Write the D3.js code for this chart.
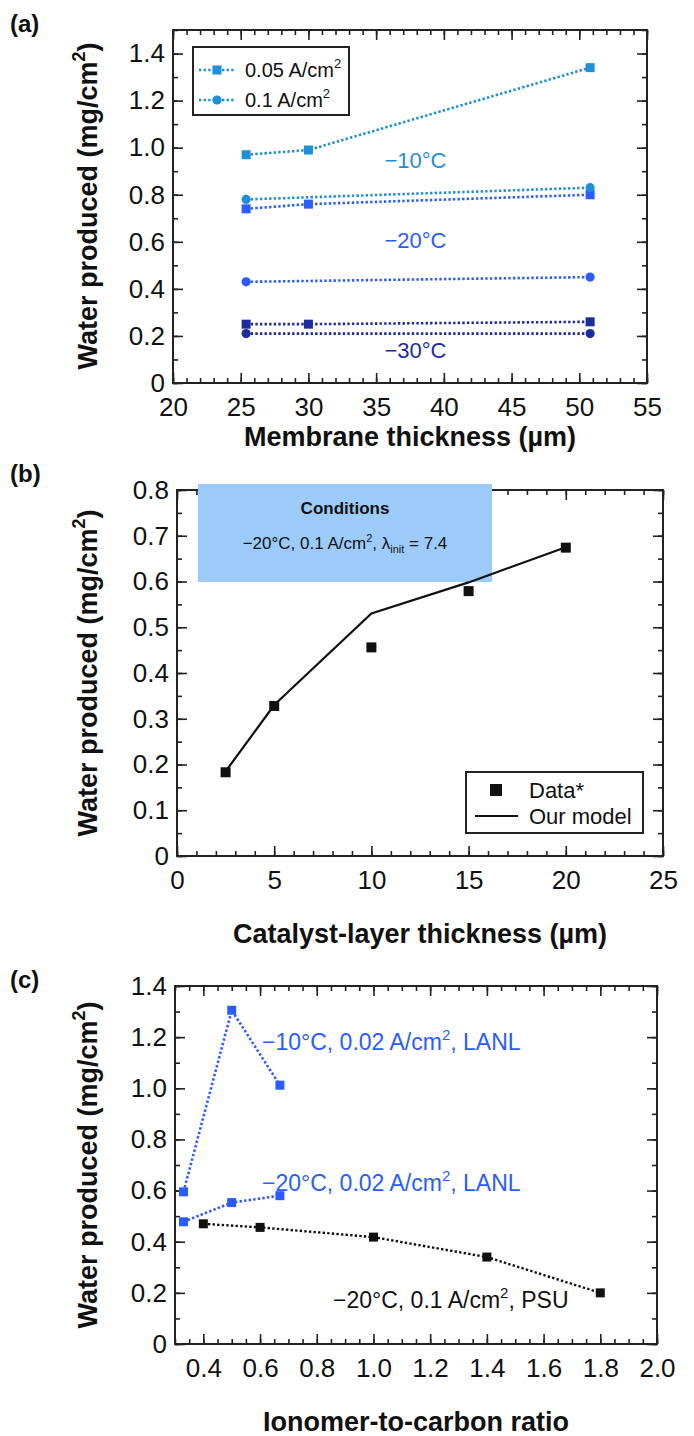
<!DOCTYPE html>
<html>
<head>
<meta charset="utf-8">
<title>Water produced</title>
<script src="https://cdn.jsdelivr.net/npm/d3@7"></script>
<style>
  body { margin: 0; background: #fff; }
  text { font-family: "Liberation Sans", Arial, sans-serif; fill: #111; }
</style>
</head>
<body>
<div id="chart"></div>
<script>
// (a) membrane thickness
var xA = [25.4, 30, 50.8];
var aSq10 = [0.97, 0.99, 1.34];
var aSq20 = [0.74, 0.76, 0.80];
var aSq30 = [0.25, 0.25, 0.26];
var xAc = [25.4, 50.8];
var aCi10 = [0.78, 0.83];
var aCi20 = [0.43, 0.45];
var aCi30 = [0.21, 0.21];
var xTicksA = [20, 25, 30, 35, 40, 45, 50, 55];
var yTicksA = [0, 0.2, 0.4, 0.6, 0.8, 1.0, 1.2, 1.4];

// (b) catalyst-layer thickness
var xB = [2.5, 5, 10, 15, 20];
var bData = [0.183, 0.328, 0.456, 0.579, 0.674];
var bModel = [0.185, 0.33, 0.53, 0.598, 0.675];
var xTicksB = [0, 5, 10, 15, 20, 25];
var yTicksB = [0, 0.1, 0.2, 0.3, 0.4, 0.5, 0.6, 0.7, 0.8];

// (c) ionomer-to-carbon ratio
var xLANL = [0.33, 0.5, 0.67];
var cL10 = [0.595, 1.305, 1.012];
var cL20 = [0.478, 0.553, 0.58];
var xPSU = [0.4, 0.6, 1.0, 1.4, 1.8];
var cPSU = [0.47, 0.456, 0.418, 0.34, 0.20];
var xTicksC = [0.4, 0.6, 0.8, 1.0, 1.2, 1.4, 1.6, 1.8, 2.0];
var yTicksC = [0, 0.2, 0.4, 0.6, 0.8, 1.0, 1.2, 1.4];

var col10 = "#1f8fd8", col20 = "#2a5cff", col30 = "#1d2c9c";

var svg = d3.select("#chart").append("svg")
    .attr("width", 694)
    .attr("height", 1436);

var yFmt = function(d) { return d === 0 ? "0" : d.toFixed(1); };

function frame(x, y, xMaj, xMin, yMaj, yMin, xFmt) {
    var g = svg.append("g");
    var L = x.range()[0], R = x.range()[1], B = y.range()[0], T = y.range()[1];
    var none = function() { return ""; };
    [[d3.axisBottom(x), 0, B, xMaj, 10, xFmt, 15],
     [d3.axisBottom(x), 0, B, xMin, 5, none, 8],
     [d3.axisTop(x), 0, T, xMaj, 10, none, 8],
     [d3.axisTop(x), 0, T, xMin, 5, none, 8],
     [d3.axisLeft(y), L, 0, yMaj, 10, yFmt, 8],
     [d3.axisLeft(y), L, 0, yMin, 5, none, 8],
     [d3.axisRight(y), R, 0, yMaj, 10, none, 8],
     [d3.axisRight(y), R, 0, yMin, 5, none, 8]].forEach(function(a) {
        var s = g.append("g")
            .attr("transform", "translate(" + a[1] + "," + a[2] + ")")
            .call(a[0].tickValues(a[3]).tickSizeInner(-a[4]).tickSizeOuter(0)
                .tickPadding(a[6]).tickFormat(a[5]));
        s.select(".domain").remove();
        s.selectAll("line").attr("stroke", "#222").attr("stroke-width", 1.6);
        s.selectAll("text").attr("font-size", 26).attr("fill", "#111")
            .attr("font-family", '"Liberation Sans", Arial, sans-serif');
    });
    g.append("rect")
        .attr("x", L).attr("y", T).attr("width", R - L).attr("height", B - T)
        .attr("fill", "none").attr("stroke", "#222").attr("stroke-width", 2);
    return g;
}

function dotted(xs, ys, x, y, color, w) {
    svg.append("path")
        .datum(d3.zip(xs, ys))
        .attr("d", d3.line().x(function(d) { return x(d[0]); }).y(function(d) { return y(d[1]); }))
        .attr("fill", "none")
        .attr("stroke", color)
        .attr("stroke-width", w || 2.6)
        .attr("stroke-dasharray", "2.4,2.2");
}

function squares(xs, ys, x, y, color, s) {
    svg.append("g").selectAll("rect")
        .data(d3.zip(xs, ys))
        .join("rect")
        .attr("x", function(d) { return x(d[0]) - s / 2; })
        .attr("y", function(d) { return y(d[1]) - s / 2; })
        .attr("width", s).attr("height", s)
        .attr("fill", color);
}

function circles(xs, ys, x, y, color, r) {
    svg.append("g").selectAll("circle")
        .data(d3.zip(xs, ys))
        .join("circle")
        .attr("cx", function(d) { return x(d[0]); })
        .attr("cy", function(d) { return y(d[1]); })
        .attr("r", r)
        .attr("fill", color);
}

// text with superscript parts: [["text", false], ["2", true]]
function rich(g, parts, size, supSize) {
    var t = g;
    parts.forEach(function(p) {
        if (p[1]) {
            t.append("tspan").attr("font-size", supSize).attr("dy", -size * 0.45).text(p[0]);
        } else {
            var sp = t.append("tspan").text(p[0]);
            if (t.selectAll("tspan").size() > 1) sp.attr("dy", size * 0.45);
        }
    });
    return t;
}

function yTitle(cx, cy) {
    var t = svg.append("text")
        .attr("transform", "translate(" + cx + "," + cy + ") rotate(-90)")
        .attr("text-anchor", "middle")
        .attr("font-size", 27)
        .attr("font-weight", "bold");
    rich(t, [["Water produced (mg/cm", false], ["2", true], [")", false]], 27, 18);
}

function panelLabel(txt, px, py) {
    svg.append("text").attr("x", px).attr("y", py)
        .attr("font-size", 24).attr("font-weight", "bold").text(txt);
}

// ---------- (a) ----------
var xa = d3.scaleLinear().domain([20, 55]).range([173, 647]);
var ya = d3.scaleLinear().domain([0, 1.5]).range([383, 30]);
frame(xa, ya, xTicksA, d3.range(20, 55.01, 1), yTicksA, d3.range(0, 1.51, 0.1), d3.format("d"));

dotted(xA, aSq10, xa, ya, col10);
dotted(xAc, aCi10, xa, ya, col10);
dotted(xA, aSq20, xa, ya, col20);
dotted(xAc, aCi20, xa, ya, col20);
dotted(xA, aSq30, xa, ya, col30);
dotted(xAc, aCi30, xa, ya, col30);
squares(xA, aSq10, xa, ya, col10, 9);
squares(xA, aSq20, xa, ya, col20, 9);
squares(xA, aSq30, xa, ya, col30, 9);
circles(xAc, aCi10, xa, ya, col10, 4.6);
circles(xAc, aCi20, xa, ya, col20, 4.6);
circles(xAc, aCi30, xa, ya, col30, 4.6);

[["\u221210\u00b0C", 0.947, col10], ["\u221220\u00b0C", 0.608, col20], ["\u221230\u00b0C", 0.139, col30]]
    .forEach(function(l) {
        svg.append("text").attr("x", xa(37.9)).attr("y", ya(l[1]) + 8)
            .attr("text-anchor", "middle").attr("font-size", 22)
            .style("fill", l[2]).text(l[0]);
    });

// legend (a)
var lgA = svg.append("g");
lgA.append("rect").attr("x", 193).attr("y", 47).attr("width", 156).attr("height", 68)
    .attr("fill", "#fff").attr("stroke", "#222").attr("stroke-width", 2);
[[70, "0.05 A/cm", "sq"], [100, "0.1 A/cm", "ci"]].forEach(function(r) {
    lgA.append("line").attr("x1", 199).attr("x2", 235).attr("y1", r[0]).attr("y2", r[0])
        .attr("stroke", col10).attr("stroke-width", 2.6).attr("stroke-dasharray", "2.4,2.2");
    if (r[2] === "sq") {
        lgA.append("rect").attr("x", 212.5).attr("y", r[0] - 4.5).attr("width", 9).attr("height", 9).attr("fill", col10);
    } else {
        lgA.append("circle").attr("cx", 217).attr("cy", r[0]).attr("r", 4.6).attr("fill", col10);
    }
    var t = lgA.append("text").attr("x", 245).attr("y", r[0] + 7).attr("font-size", 20);
    rich(t, [[r[1], false], ["2", true]], 20, 13);
});

svg.append("text").attr("x", 410).attr("y", 446).attr("text-anchor", "middle")
    .attr("font-size", 27).attr("font-weight", "bold").text("Membrane thickness (\u00b5m)");
yTitle(97, 206);
panelLabel("(a)", 10, 32);

// ---------- (b) ----------
var xb = d3.scaleLinear().domain([0, 25]).range([177, 663]);
var yb = d3.scaleLinear().domain([0, 0.8]).range([856, 490]);
frame(xb, yb, xTicksB, d3.range(0, 25.01, 1), yTicksB, d3.range(0, 0.801, 0.05), d3.format("d"));

svg.append("rect").attr("x", 198).attr("y", 484).attr("width", 294).attr("height", 98)
    .attr("fill", "#9ccbfa");
svg.append("text").attr("x", 345).attr("y", 514).attr("text-anchor", "middle")
    .attr("font-family", "Lato, 'Open Sans', sans-serif").attr("font-weight", "bold")
    .attr("font-size", 17).text("Conditions");
var cond = svg.append("text").attr("x", 345).attr("y", 549).attr("text-anchor", "middle")
    .attr("font-family", "Lato, 'Open Sans', sans-serif").attr("font-size", 17);
cond.append("tspan").text("\u221220\u00b0C, 0.1 A/cm");
cond.append("tspan").attr("font-size", 11).attr("dy", -7).text("2");
cond.append("tspan").attr("dy", 7).text(", \u03bb");
cond.append("tspan").attr("font-size", 11).attr("dy", 4).text("init");
cond.append("tspan").attr("dy", -4).text(" = 7.4");

svg.append("path")
    .datum(d3.zip(xB, bModel))
    .attr("d", d3.line().x(function(d) { return xb(d[0]); }).y(function(d) { return yb(d[1]); }))
    .attr("fill", "none").attr("stroke", "#111").attr("stroke-width", 2.2);
squares(xB, bData, xb, yb, "#111", 10);

var lgB = svg.append("g");
lgB.append("rect").attr("x", 466).attr("y", 772).attr("width", 177).attr("height", 61)
    .attr("fill", "#fff").attr("stroke", "#222").attr("stroke-width", 2);
lgB.append("rect").attr("x", 490).attr("y", 784).attr("width", 12).attr("height", 12).attr("fill", "#111");
lgB.append("text").attr("x", 529).attr("y", 798).attr("font-size", 22).text("Data*");
lgB.append("line").attr("x1", 475).attr("x2", 518).attr("y1", 816).attr("y2", 816)
    .attr("stroke", "#111").attr("stroke-width", 2.2);
lgB.append("text").attr("x", 529).attr("y", 824).attr("font-size", 22).text("Our model");

svg.append("text").attr("x", 420).attr("y", 943).attr("text-anchor", "middle")
    .attr("font-size", 27).attr("font-weight", "bold").text("Catalyst-layer thickness (\u00b5m)");
yTitle(97, 673);
panelLabel("(b)", 10, 482);

// ---------- (c) ----------
var xc = d3.scaleLinear().domain([0.3, 2.0]).range([175, 657]);
var yc = d3.scaleLinear().domain([0, 1.4]).range([1344, 986]);
frame(xc, yc, xTicksC, d3.range(0.3, 2.001, 0.05), yTicksC, d3.range(0, 1.401, 0.1), d3.format(".1f"));

dotted(xLANL, cL10, xc, yc, col20);
dotted(xLANL, cL20, xc, yc, col20);
dotted(xPSU, cPSU, xc, yc, "#111", 2.4);
squares(xLANL, cL10, xc, yc, col20, 9);
squares(xLANL, cL20, xc, yc, col20, 9);
squares(xPSU, cPSU, xc, yc, "#111", 9);

[["\u221210\u00b0C, 0.02 A/cm", ", LANL", 262, 1050, col20],
 ["\u221220\u00b0C, 0.02 A/cm", ", LANL", 262, 1191, col20],
 ["\u221220\u00b0C, 0.1 A/cm", ", PSU", 333, 1308, "#111"]].forEach(function(l) {
    var t = svg.append("text").attr("x", l[2]).attr("y", l[3]).attr("font-size", 23).style("fill", l[4]);
    rich(t, [[l[0], false], ["2", true], [l[1], false]], 23, 15);
});

svg.append("text").attr("x", 416).attr("y", 1431).attr("text-anchor", "middle")
    .attr("font-size", 27).attr("font-weight", "bold").text("Ionomer-to-carbon ratio");
yTitle(97, 1165);
panelLabel("(c)", 10, 988);
</script>
</body>
</html>
